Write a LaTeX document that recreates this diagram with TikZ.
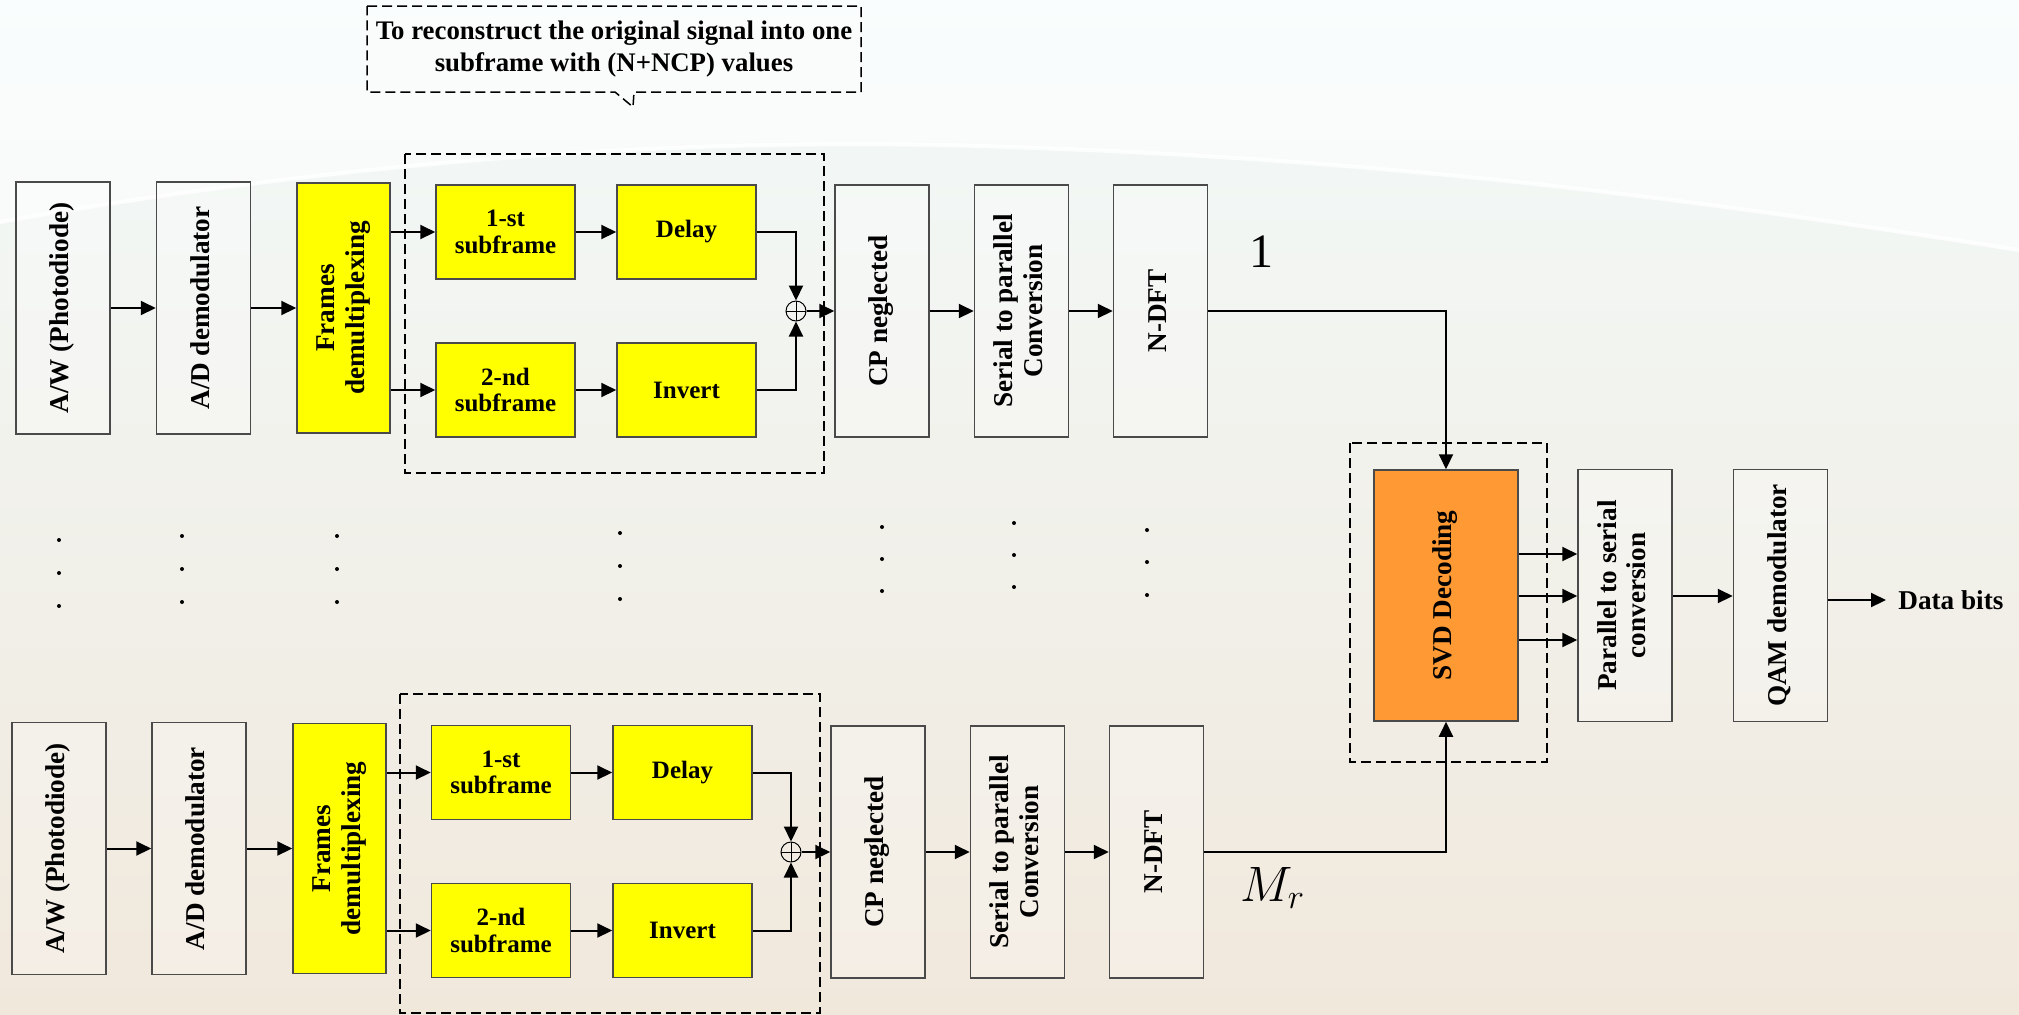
\documentclass[tikz,border=0pt]{standalone}
\usepackage{fontspec}
\setmainfont{Liberation Serif}
\usetikzlibrary{arrows.meta,calc}
\definecolor{bgtop}{HTML}{F2FAFA}
\definecolor{bgmid}{HTML}{EAF2EE}
\definecolor{bgbot}{HTML}{F1E8DC}
\definecolor{boxline}{HTML}{4A4A4A}
\definecolor{yel}{HTML}{FFFF00}
\definecolor{orng}{HTML}{FF9933}
\newcommand\rt[1]{\rotatebox{90}{\begin{tabular}{@{}c@{}}#1\end{tabular}}}
\tikzset{
  lbl/.style={font=\fontsize{13.6}{14.8}\selectfont\bfseries, inner sep=0pt},
  wbox/.style={lbl, draw=boxline, line width=0.75pt, fill=white, fill opacity=0.25, text opacity=1,
    minimum width=47pt, minimum height=126pt, align=center},
  ytall/.style={lbl, draw=boxline, line width=0.75pt, fill=yel,
    minimum width=46.5pt, minimum height=125pt, align=center},
  ysmall/.style={lbl, font=\fontsize{12.5}{13.3}\selectfont\bfseries, draw=boxline, line width=0.75pt, fill=yel,
    minimum width=69.5pt, minimum height=47pt, align=center},
  obox/.style={lbl, draw=boxline, line width=0.75pt, fill=orng,
    minimum width=72pt, minimum height=125.5pt, align=center},
  sumc/.style={circle, draw=black, line width=0.5pt, minimum size=10pt, inner sep=0pt,
    path picture={\draw[line width=0.5pt] (path picture bounding box.north) -- (path picture bounding box.south)
      (path picture bounding box.west) -- (path picture bounding box.east);}},
  arr/.style={line width=1pt, -{Triangle[length=7.5pt,width=7pt]}},
  grp/.style={line width=0.75pt, dash pattern=on 5pt off 2.5pt},
  dotf/.style={fill=black},
}
\begin{document}
\begin{tikzpicture}[x=0.5pt,y=-0.5pt]
% background
\useasboundingbox (0,0) rectangle (2019,1014);
\shade[top color=bgtop, middle color=bgmid, bottom color=bgbot] (0,0) rectangle (2019,1014);
\fill[white, opacity=0.6] (0,0) -- (0,222) .. controls (350,160) and (700,135) .. (1010,147)
   .. controls (1400,160) and (1700,200) .. (2019,250) -- (2019,0) -- cycle;
\draw[white, line width=2pt, opacity=0.8] (0,222) .. controls (350,160) and (700,135) .. (1010,147)
   .. controls (1400,160) and (1700,200) .. (2019,250);

% callout
\draw[grp, fill=white, fill opacity=0.3] (367,6) -- (861,6) -- (861,92) -- (634,92) -- (633,107) -- (615,92) -- (367,92) -- cycle;
\node[lbl, align=center, font=\fontsize{13.4}{16}\selectfont\bfseries] (call) at (614,49)
  {To reconstruct the original signal into one\\subframe with (N+NCP) values};

% ---------- top branch ----------
\draw[grp] (405,154) rectangle (824,473);
\node[wbox] (aw1) at (63,308) {\rt{A/W (Photodiode)}};
\node[wbox] (ad1) at (203.5,308) {\rt{A/D demodulator}};
\node[ytall] (dm1) at (343.5,308) {\rt{Frames\\demultiplexing}};
\node[ysmall] (s11) at (505.5,232) {1-st\\subframe};
\node[ysmall] (dl1) at (686.5,232) {Delay};
\node[ysmall] (s21) at (505.5,390) {2-nd\\subframe};
\node[ysmall] (iv1) at (686.5,390) {Invert};
\node[sumc] (sm1) at (796,311) {};
\node[wbox] (cp1) at (882,311) {\rt{CP neglected}};
\node[wbox] (sp1) at (1021.5,311) {\rt{Serial to parallel\\Conversion}};
\node[wbox] (df1) at (1160.5,311) {\rt{N-DFT}};
\node[font=\fontsize{24}{26}\selectfont] (one) at (1261,252) {1};

\draw[arr] (aw1.east |- 0,308) -- (ad1.west |- 0,308);
\draw[arr] (ad1.east |- 0,308) -- (dm1.west |- 0,308);
\draw[arr] (dm1.east |- s11) -- (s11.west);
\draw[arr] (dm1.east |- s21) -- (s21.west);
\draw[arr] (s11) -- (dl1);
\draw[arr] (s21) -- (iv1);
\draw[arr] (dl1.east) -| (sm1.north);
\draw[arr] (iv1.east) -| (sm1.south);
\draw[arr] (sm1.east) -- (cp1.west |- sm1);
\draw[arr] (cp1) -- (sp1);
\draw[arr] (sp1) -- (df1);

% ---------- bottom branch ----------
\draw[grp] (400,694) rectangle (820,1013);
\node[wbox] (aw2) at (59,848.5) {\rt{A/W (Photodiode)}};
\node[wbox] (ad2) at (199,848.5) {\rt{A/D demodulator}};
\node[ytall] (dm2) at (339.5,848.5) {\rt{Frames\\demultiplexing}};
\node[ysmall] (s12) at (501,772.5) {1-st\\subframe};
\node[ysmall] (dl2) at (682.5,772.5) {Delay};
\node[ysmall] (s22) at (501,930.5) {2-nd\\subframe};
\node[ysmall] (iv2) at (682.5,930.5) {Invert};
\node[sumc] (sm2) at (791,852) {};
\node[wbox] (cp2) at (878,852) {\rt{CP neglected}};
\node[wbox] (sp2) at (1017.5,852) {\rt{Serial to parallel\\Conversion}};
\node[wbox] (df2) at (1156.5,852) {\rt{N-DFT}};
\node[font=\fontsize{23}{25}\selectfont] (mr) at (1273,888) {$M_r$};

\draw[arr] (aw2) -- (ad2);
\draw[arr] (ad2) -- (dm2);
\draw[arr] (dm2.east |- s12) -- (s12.west);
\draw[arr] (dm2.east |- s22) -- (s22.west);
\draw[arr] (s12) -- (dl2);
\draw[arr] (s22) -- (iv2);
\draw[arr] (dl2.east) -| (sm2.north);
\draw[arr] (iv2.east) -| (sm2.south);
\draw[arr] (sm2.east) -- (cp2.west |- sm2);
\draw[arr] (cp2) -- (sp2);
\draw[arr] (sp2) -- (df2);

% ---------- decoding part ----------
\draw[grp] (1350,443) rectangle (1547,762);
\node[obox] (svd) at (1446,595.5) {\rt{SVD Decoding}};
\node[wbox] (ps) at (1625,595.5) {\rt{Parallel to serial\\conversion}};
\node[wbox] (qam) at (1780.5,595.5) {\rt{QAM demodulator}};
\node[lbl, anchor=west] (db) at (1898,600) {Data bits};

\draw[arr] (df1.east) -| (svd.north);
\draw[arr] (df2.east) -| (svd.south);
\draw[arr] (svd.east |- 0,554) -- (ps.west |- 0,554);
\draw[arr] (svd.east |- 0,596) -- (ps.west |- 0,596);
\draw[arr] (svd.east |- 0,640) -- (ps.west |- 0,640);
\draw[arr] (ps.east |- 0,596) -- (qam.west |- 0,596);
\draw[arr] (qam.east |- db) -- ([xshift=-6pt]db.west);

% ---------- dots ----------
\foreach \x/\a/\b/\c in {59/540/573/606, 182/536/569/602, 337/536/569/602, 620/533/566/599,
   882/527/559/591, 1014/523/555/587, 1147/530/562/595}{
  \fill[dotf] (\x,\a) circle (1pt) (\x,\b) circle (1pt) (\x,\c) circle (1pt);
}
\end{tikzpicture}
\end{document}
